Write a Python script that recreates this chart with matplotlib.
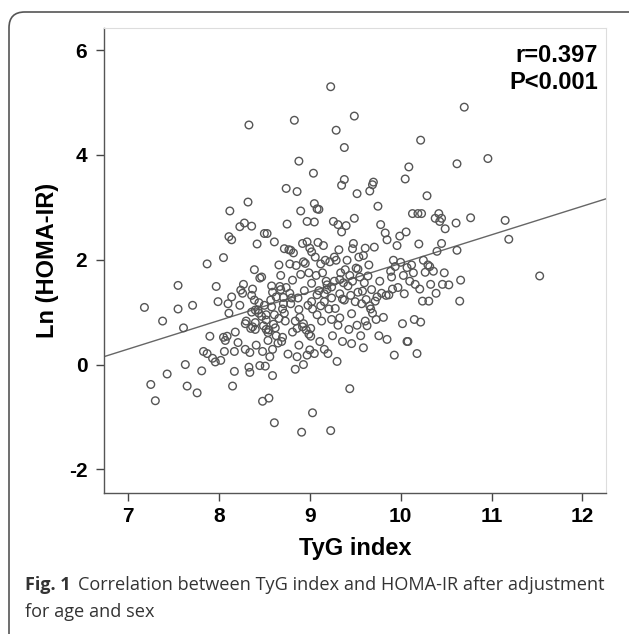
import matplotlib.pyplot as plt
from matplotlib.patches import FancyBboxPatch
import numpy as np

tyg = [7.18, 7.25, 7.30, 7.38, 7.43, 7.55, 7.55, 7.61, 7.63, 7.65, 7.71, 7.76, 7.81, 7.83, 7.87, 7.87,
       7.90, 7.93, 7.96, 7.97, 7.99, 8.02, 8.05, 8.05, 8.06, 8.07, 8.09, 8.10, 8.11, 8.11, 8.12, 8.14,
       8.14, 8.15, 8.17, 8.17, 8.18, 8.21, 8.23, 8.23, 8.24, 8.26, 8.27, 8.28, 8.29, 8.30, 8.32, 8.33,
       8.33, 8.34, 8.34, 8.35, 8.36, 8.36, 8.37, 8.39, 8.39, 8.40, 8.40, 8.40, 8.41, 8.42, 8.43, 8.44,
       8.45, 8.45, 8.47, 8.48, 8.48, 8.49, 8.50, 8.50, 8.51, 8.52, 8.52, 8.53, 8.54, 8.54, 8.55, 8.55,
       8.56, 8.57, 8.58, 8.59, 8.59, 8.59, 8.60, 8.61, 8.61, 8.61, 8.63, 8.63, 8.65, 8.66, 8.67, 8.68,
       8.68, 8.69, 8.70, 8.70, 8.71, 8.72, 8.72, 8.73, 8.74, 8.74, 8.75, 8.76, 8.77, 8.78, 8.78, 8.79,
       8.79, 8.80, 8.81, 8.82, 8.83, 8.84, 8.84, 8.85, 8.86, 8.86, 8.86, 8.87, 8.88, 8.88, 8.89, 8.90,
       8.90, 8.91, 8.92, 8.92, 8.93, 8.93, 8.94, 8.95, 8.96, 8.97, 8.97, 8.97, 8.98, 8.99, 8.99, 9.00,
       9.00, 9.01, 9.01, 9.02, 9.02, 9.03, 9.03, 9.04, 9.05, 9.05, 9.05, 9.06, 9.07, 9.08, 9.08, 9.09,
       9.10, 9.10, 9.11, 9.12, 9.12, 9.13, 9.14, 9.15, 9.16, 9.16, 9.17, 9.18, 9.19, 9.20, 9.21, 9.22,
       9.23, 9.23, 9.24, 9.24, 9.25, 9.26, 9.27, 9.27, 9.28, 9.29, 9.29, 9.30, 9.31, 9.31, 9.32, 9.33,
       9.33, 9.34, 9.35, 9.35, 9.36, 9.37, 9.38, 9.38, 9.38, 9.39, 9.40, 9.41, 9.42, 9.43, 9.44, 9.45,
       9.46, 9.46, 9.47, 9.47, 9.48, 9.49, 9.49, 9.50, 9.51, 9.52, 9.52, 9.53, 9.54, 9.55, 9.56, 9.57,
       9.59, 9.59, 9.60, 9.61, 9.61, 9.62, 9.63, 9.64, 9.65, 9.66, 9.67, 9.68, 9.69, 9.69, 9.70, 9.71,
       9.72, 9.73, 9.74, 9.75, 9.76, 9.77, 9.78, 9.79, 9.81, 9.83, 9.84, 9.85, 9.85, 9.87, 9.89, 9.90,
       9.91, 9.92, 9.93, 9.94, 9.96, 9.97, 9.99, 10.00, 10.02, 10.03, 10.04, 10.05, 10.06, 10.07, 10.07,
       10.08, 10.09, 10.10, 10.12, 10.13, 10.14, 10.15, 10.16, 10.18, 10.19, 10.20, 10.21, 10.22, 10.22,
       10.23, 10.24, 10.25, 10.27, 10.29, 10.30, 10.31, 10.32, 10.33, 10.36, 10.38, 10.39, 10.40, 10.42,
       10.43, 10.45, 10.45, 10.46, 10.48, 10.49, 10.53, 10.61, 10.62, 10.62, 10.65, 10.66, 10.70, 10.77,
       10.96, 11.15, 11.19, 11.53,
       8.29, 8.37, 8.62, 8.81, 8.47, 8.58, 8.66, 8.88, 9.02, 9.16, 9.24, 9.33, 9.44, 9.53, 8.36, 8.44,
       8.52, 8.71, 8.93, 9.08, 9.19, 9.36, 9.58, 9.66]

homa = [1.09, -0.38, -0.69, 0.83, -0.18, 1.51, 1.06, 0.70, 0.00, -0.41, 1.13, -0.54, -0.12, 0.25, 1.92, 0.21,
        0.54, 0.12, 0.05, 1.49, 1.20, 0.08, 2.04, 0.52, 0.25, 0.46, 0.54, 1.16, 0.98, 2.44, 2.93, 2.38,
        1.29, -0.41, -0.13, 0.25, 0.62, 0.42, 2.63, 1.13, 1.42, 1.36, 1.53, 2.70, 0.29, 0.83, 3.10, 4.57,
        -0.05, -0.15, 0.23, 0.69, 2.64, 1.32, 1.44, 1.81, 1.23, 1.04, 0.80, 0.67, 0.37, 2.30, 1.04, 0.98,
        -0.02, 1.65, 1.67, -0.70, 0.25, 0.74, 2.50, 1.13, -0.03, 0.67, 0.95, 2.50, 0.61, 0.46, -0.64, 0.66,
        0.15, 1.23, 1.50, -0.21, 1.38, 0.29, 0.77, -1.11, 0.95, 2.34, 0.55, 1.29, 0.41, 1.90, 1.49, 1.70,
        1.43, 0.44, 1.06, 0.52, 1.16, 2.21, 0.98, 0.83, 3.36, 1.47, 2.68, 0.20, 2.19, 1.36, 1.92, 2.18,
        1.16, 1.27, 1.61, 2.13, 4.66, 0.83, -0.09, 1.89, 3.30, 0.15, 0.69, 1.27, 3.88, 0.37, 0.90, 2.93,
        1.72, -1.29, 2.31, 0.72, 1.96, 0.00, 1.41, 1.93, 0.66, 2.73, 0.18, 2.34, 1.13, 0.58, 1.75, 2.22,
        0.28, 0.69, 0.54, 1.55, 2.15, -0.92, 1.06, 3.65, 2.72, 3.07, 0.21, 2.05, 1.70, 1.33, 2.97, 2.33,
        1.41, 2.96, 0.44, 1.12, 1.92, 0.83, 1.75, 2.27, 0.29, 1.20, 1.99, 1.59, 1.43, 0.21, 1.06, 1.96,
        -1.26, 5.30, 0.86, 1.27, 0.55, 2.73, 2.05, 1.59, 1.07, 1.99, 4.47, 0.06, 0.75, 2.67, 2.19, 1.35,
        0.89, 1.75, 2.53, 3.42, 0.44, 1.56, 4.14, 3.53, 1.23, 1.81, 2.65, 1.99, 1.50, 0.67, -0.46, 1.32,
        0.40, 0.97, 2.21, 1.59, 2.31, 4.74, 2.79, 1.20, 1.84, 3.26, 0.75, 1.38, 2.05, 1.67, 0.55, 1.16,
        0.32, 2.08, 1.56, 0.83, 2.22, 1.24, 0.74, 1.69, 1.90, 3.31, 1.06, 1.43, 3.43, 0.98, 3.48, 2.24,
        1.21, 0.86, 1.29, 3.02, 0.55, 1.59, 2.67, 1.36, 0.90, 2.51, 1.32, 0.48, 2.38, 1.33, 1.78, 1.67,
        1.44, 1.99, 0.18, 1.87, 2.27, 1.47, 2.45, 1.95, 0.78, 1.70, 1.35, 3.54, 2.53, 0.44, 1.85,
        0.44, 3.77, 1.59, 1.90, 2.88, 1.75, 0.86, 1.53, 0.21, 2.88, 2.30, 1.44, 0.81, 4.28,
        2.88, 1.21, 1.99, 1.76, 3.22, 1.90, 1.21, 1.87, 1.53, 1.78, 2.79, 1.36, 2.16, 2.88,
        2.73, 2.31, 2.79, 1.53, 1.75, 2.59, 1.52, 2.70, 2.18, 3.83, 1.21, 1.61, 4.91, 2.80,
        3.93, 2.75, 2.39, 1.69,
        0.78, 0.72, 0.70, 0.62, 0.92, 1.10, 0.88, 1.05, 1.20, 1.35, 1.48, 1.62, 1.70, 1.82, 1.00, 1.18,
        0.85, 1.28, 0.78, 0.95, 1.52, 1.25, 1.40, 1.12]

# fitted line
slope = 0.545
intercept = -3.52

plt.rcParams['font.family'] = 'Liberation Sans'
plt.rcParams['axes.unicode_minus'] = False

fig = plt.figure(figsize=(6.29, 6.34), dpi=100)
ax = fig.add_axes([104 / 629, 1 - 493 / 634, 502 / 629, 465 / 634])

ax.scatter(tyg, homa, s=30, facecolors='none', edgecolors='#555555', linewidths=1.0, zorder=3)

xl = np.array([6.735, 12.26])
ax.plot(xl, slope * xl + intercept, color='#666666', lw=1.0, zorder=2)

ax.set_xlim(6.735, 12.26)
ax.set_ylim(-2.45, 6.42)
ax.set_xticks([7, 8, 9, 10, 11, 12])
ax.set_yticks([-2, 0, 2, 4, 6])
ax.tick_params(direction='out', length=6, width=1, colors='#444444', labelsize=15, labelcolor='black')
ax.tick_params(axis='y', pad=6)
ax.tick_params(axis='x', pad=4)
for lab in ax.get_xticklabels() + ax.get_yticklabels():
    lab.set_fontweight('bold')

for side in ['left', 'bottom']:
    ax.spines[side].set_color('#555555')
    ax.spines[side].set_linewidth(1.0)
for side in ['top', 'right']:
    ax.spines[side].set_color('#dddddd')
    ax.spines[side].set_linewidth(0.8)

ax.set_xlabel('TyG index', fontsize=17, fontweight='bold', labelpad=8)
ax.set_ylabel('Ln (HOMA-IR)', fontsize=17, fontweight='bold', labelpad=7)

fig.text(598 / 629, 1 - 44 / 634, 'r=0.397\nP<0.001', ha='right', va='top',
         fontsize=17, fontweight='bold', linespacing=1.2)

# outer rounded frame
frame = FancyBboxPatch((9 / 629, -0.05), 1.05, 1 - 12 / 634 + 0.05,
                       boxstyle='round,pad=0,rounding_size=0.025', transform=fig.transFigure,
                       fill=False, edgecolor='#555555', linewidth=1.2, clip_on=False)
fig.patches.append(frame)

cap = fig.text(25 / 629, 1 - 585 / 634, 'Fig. 1', fontsize=13, fontweight='bold', va='center',
               ha='left', family='Open Sans', color='#333333')
fig.canvas.draw()
bb = cap.get_window_extent()
fig.text(bb.x1 / fig.bbox.width + 7 / 629, 1 - 585 / 634,
         'Correlation between TyG index and HOMA-IR after adjustment',
         fontsize=13.1, va='center', ha='left', family='Open Sans', color='#333333')
fig.text(25 / 629, 1 - 612 / 634, 'for age and sex', fontsize=13.1, va='center', ha='left',
         family='Open Sans', color='#333333')

fig.savefig('out.png', dpi=100)
